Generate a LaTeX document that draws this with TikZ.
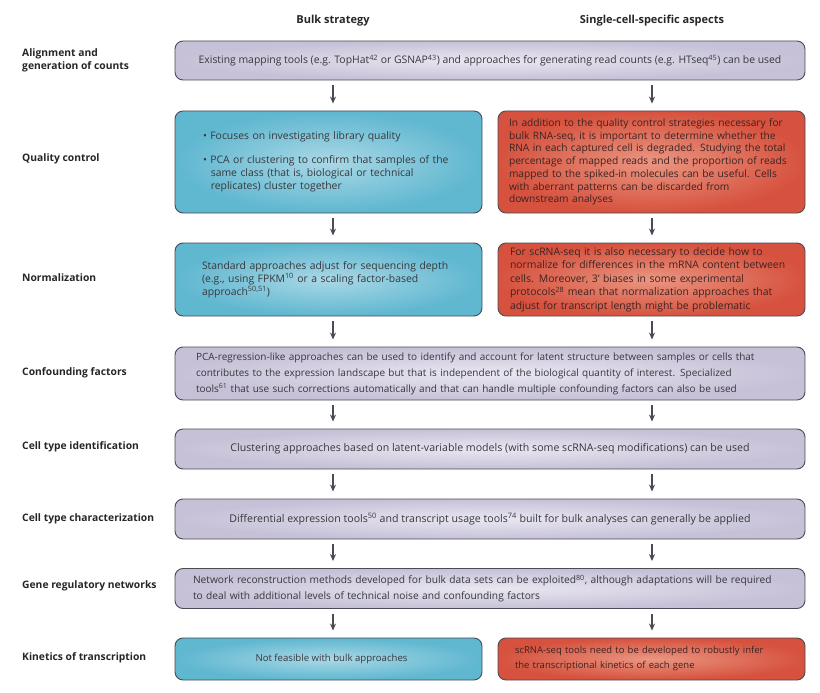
\documentclass[tikz,border=0pt]{standalone}
\usepackage{fontspec}
\setmainfont{Open Sans}
\usetikzlibrary{arrows.meta}
\definecolor{txtgray}{RGB}{55,55,60}
\definecolor{redtxt}{RGB}{60,35,35}
\definecolor{edgegray}{RGB}{75,75,85}
\definecolor{lilac}{RGB}{198,193,215}
\definecolor{lilaclight}{RGB}{234,231,242}
\definecolor{bluedark}{RGB}{95,183,208}
\definecolor{bluelight}{RGB}{170,216,230}
\definecolor{reddark}{RGB}{214,82,62}
\definecolor{redlight}{RGB}{234,150,130}

\tikzset{
  box/.style={draw=edgegray, line width=0.9pt, rounded corners=8pt, text=txtgray,
    font=\fontsize{10.4}{13}\selectfont, inner ysep=4pt},
  purplebox/.style={box, inner color=lilaclight, outer color=lilac},
  bluebox/.style={box, inner color=bluelight, outer color=bluedark},
  redbox/.style={box, inner color=redlight, outer color=reddark, text=redtxt},
  rowlabel/.style={anchor=west, align=left, text=black!85, inner xsep=0pt,
    font=\bfseries\fontsize{10.3}{13}\selectfont},
  header/.style={text=black!85, font=\bfseries\fontsize{11}{13}\selectfont},
  arr/.style={-{Stealth[length=7pt,width=6pt]}, line width=1.2pt, draw=edgegray,
    shorten <=5pt, shorten >=7pt}
}

\begin{document}
\begin{tikzpicture}[x=1pt, y=-1pt]
    \useasboundingbox (0,0) rectangle (820,693);

    % Column headers
    \node[header] (bulkhead) at (333,21) {Bulk strategy};
    \node[header] (schead) at (652,21) {Single-cell-specific aspects};
    \coordinate (bulkcol) at (333,0);
    \coordinate (sccol) at (652,0);

    % Row labels
    \node[rowlabel] (lalign) at (22,60) {Alignment and\\generation of counts};
    \node[rowlabel] (lqc) at (22,159) {Quality control};
    \node[rowlabel] (lnorm) at (22,278) {Normalization};
    \node[rowlabel] (lconf) at (22,373) {Confounding factors};
    \node[rowlabel] (lident) at (22,447) {Cell type identification};
    \node[rowlabel] (lcharac) at (22,519) {Cell type characterization};
    \node[rowlabel] (lgenereg) at (22,586) {Gene regulatory networks};
    \node[rowlabel] (lkin) at (22,658) {Kinetics of transcription};

    % Alignment
    \node[purplebox, minimum width=630pt, minimum height=39pt] (align) at (490,60.5)
      {Existing mapping tools (e.g. TopHat\textsuperscript{42} or GSNAP\textsuperscript{43}) and approaches for generating read counts (e.g. HTseq\textsuperscript{45}) can be used};

    % Quality control
    \node[bluebox, text width=251pt, inner xsep=28pt, minimum height=102pt, align=left] (qcbulk) at (328.5,162)
      {\textbullet~Focuses on investigating library quality\\[11pt]
       \textbullet~PCA or clustering to confirm that samples of the\\
       \hspace*{0.75em}same class (that is, biological or technical\\
       \hspace*{0.75em}replicates) cluster together};
    \node[redbox, text width=285pt, inner xsep=11pt, minimum height=102pt, align=left,
      font=\fontsize{10.2}{12.7}\selectfont] (qcsc) at (651.5,162)
      {In addition to the quality control strategies necessary for\\
       bulk RNA-seq, it is important to determine whether the\\
       RNA in each captured cell is degraded. Studying the total\\
       percentage of mapped reads and the proportion of reads\\
       mapped to the spiked-in molecules can be useful. Cells\\
       with aberrant patterns can be discarded from\\
       downstream analyses};

    % Normalization
    \node[bluebox, text width=253pt, inner xsep=27pt, minimum height=73pt, align=left] (normbulk) at (328.5,279.5)
      {Standard approaches adjust for sequencing depth\\
       (e.g., using FPKM\textsuperscript{10} or a scaling factor-based\\
       approach\textsuperscript{50,51})};
    \node[redbox, text width=283pt, inner xsep=12pt, minimum height=73pt, align=left,
      font=\fontsize{10.4}{13.5}\selectfont] (normsc) at (651.5,279.5)
      {For scRNA-seq it is also necessary to decide how to\\
       normalize for differences in the mRNA content between\\
       cells. Moreover, 3’ biases in some experimental\\
       protocols\textsuperscript{28} mean that normalization approaches that\\
       adjust for transcript length might be problematic};

    % Confounding factors
    \node[purplebox, text width=588pt, inner xsep=21pt, minimum height=53pt, align=left,
      font=\fontsize{10}{16}\selectfont] (conf) at (490,373.5)
      {PCA-regression-like approaches can be used to identify and account for latent structure between samples or cells that\\
       contributes to the expression landscape but that is independent of the biological quantity of interest. Specialized\\
       tools\textsuperscript{61} that use such corrections automatically and that can handle multiple confounding factors can also be used};

    % Cell type identification and characterization
    \node[purplebox, minimum width=630pt, minimum height=40pt, font=\fontsize{10.6}{13}\selectfont] (ident) at (490,449)
      {Clustering approaches based on latent-variable models (with some scRNA-seq modifications) can be used};
    \node[purplebox, minimum width=630pt, minimum height=40pt, font=\fontsize{10.6}{13}\selectfont] (charac) at (490,519)
      {Differential expression tools\textsuperscript{50} and transcript usage tools\textsuperscript{74} built for bulk analyses can generally be applied};

    % Gene regulatory networks
    \node[purplebox, text width=594pt, inner xsep=18pt, minimum height=40pt, align=left,
      font=\fontsize{10.2}{16}\selectfont] (genereg) at (490,588.5)
      {Network reconstruction methods developed for bulk data sets can be exploited\textsuperscript{80}, although adaptations will be required\\
       to deal with additional levels of technical noise and confounding factors};

    % Kinetics of transcription
    \node[bluebox, minimum width=307pt, minimum height=42pt, font=\fontsize{9.6}{13}\selectfont] (kinbulk) at (328.5,659)
      {\hspace*{6pt}Not feasible with bulk approaches};
    \node[redbox, text width=273pt, inner xsep=17pt, minimum height=42pt, align=left,
      font=\fontsize{9.5}{15}\selectfont] (kinsc) at (651.5,659)
      {scRNA-seq tools need to be developed to robustly infer\\
       the transcriptional kinetics of each gene};

    % Arrows
    \foreach \a/\b in {align/qcbulk, qcbulk/normbulk, normbulk/conf, conf/ident, ident/charac, charac/genereg, genereg/kinbulk}
        \draw[arr] (\a.south -| bulkcol) -- (\b.north -| bulkcol);
    \foreach \a/\b in {align/qcsc, qcsc/normsc, normsc/conf, conf/ident, ident/charac, charac/genereg, genereg/kinsc}
        \draw[arr] (\a.south -| sccol) -- (\b.north -| sccol);
\end{tikzpicture}
\end{document}
